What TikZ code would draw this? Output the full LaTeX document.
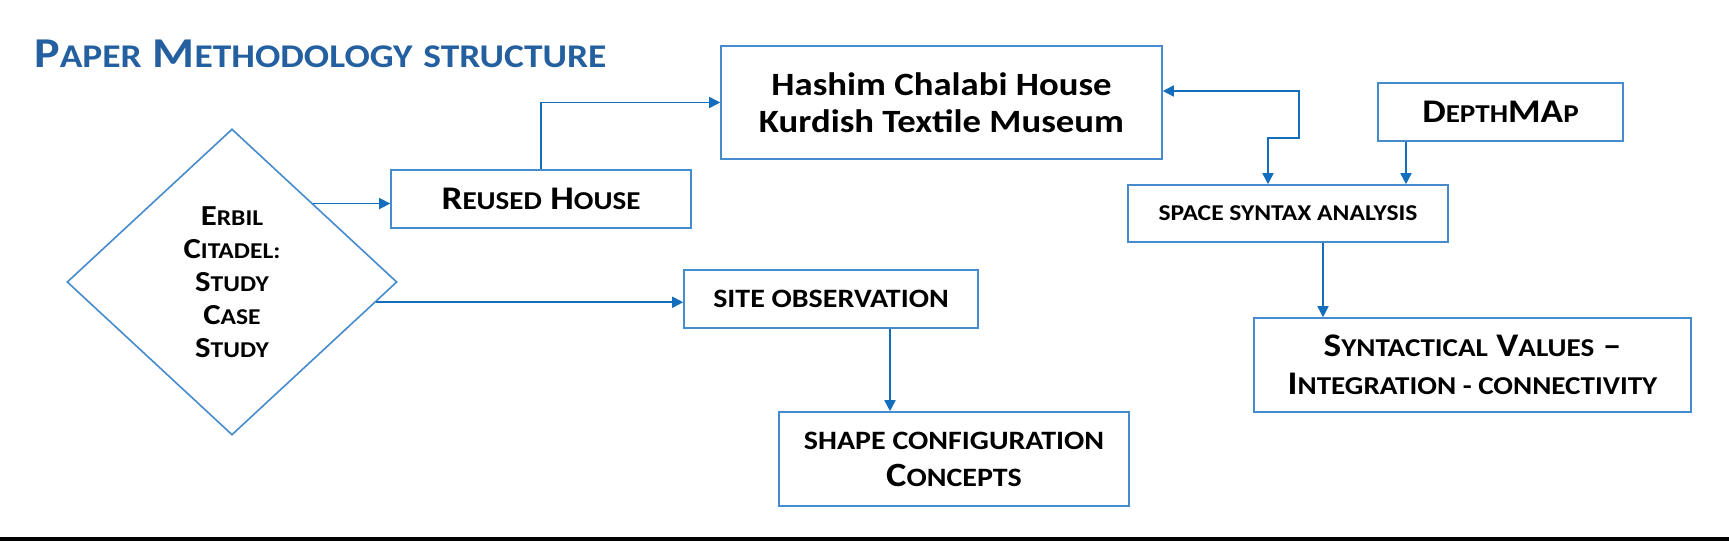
\documentclass[tikz,border=0pt]{standalone}
\usepackage{fontspec}
\setmainfont{Carlito}[FakeStretch=1.13]
\usetikzlibrary{shapes.geometric,arrows.meta,calc}
\definecolor{boxblue}{RGB}{70,140,205}
\definecolor{arrblue}{RGB}{20,110,190}
\definecolor{titleblue}{RGB}{36,96,160}
\newcommand\lc[1]{\scalebox{0.78}{#1}}
\begin{document}
\begin{tikzpicture}[x=1pt,y=-1pt,
  box/.style={draw=boxblue, line width=1.6pt, inner sep=0pt, align=center},
  arr/.style={draw=arrblue, line width=1.6pt, -{Triangle[length=11pt,width=11pt]}},
  darr/.style={draw=arrblue, line width=1.6pt, {Triangle[length=11pt,width=11pt]}-{Triangle[length=11pt,width=11pt]}}]
\useasboundingbox (0,0) rectangle (1729,541);
\fill[white] (0,0) rectangle (1729,541);
\fill[black] (0,537) rectangle (1729,541);

\node[anchor=base west, text=titleblue, inner sep=0pt, font=\bfseries\fontsize{42.5}{50}\selectfont] (title) at (34,67) {P\lc{APER} M\lc{ETHODOLOGY} \lc{STRUCTURE}};

\node[box, minimum width=441pt, minimum height=113pt, font=\bfseries\fontsize{32.5}{37}\selectfont] (hashim) at (941.5,102.5) {Hashim Chalabi House\\Kurdish Textile Museum};
\node[box, minimum width=300pt, minimum height=58pt, font=\bfseries\fontsize{33}{38}\selectfont] (reused) at (541,199) {R\lc{EUSED} H\lc{OUSE}};
\node[box, minimum width=245pt, minimum height=58pt, font=\bfseries\fontsize{33}{38}\selectfont] (depth) at (1500.5,112) {D\lc{EPTH}MA\lc{P}};
\node[box, minimum width=320pt, minimum height=57pt, font=\bfseries\fontsize{29}{34}\selectfont] (space) at (1288,213.5) {\lc{SPACE SYNTAX ANALYSIS}};
\node[box, minimum width=294pt, minimum height=58pt, font=\bfseries\fontsize{34}{38}\selectfont] (site) at (831,299) {\lc{SITE OBSERVATION}};
\node[box, minimum width=350pt, minimum height=94pt, font=\bfseries\fontsize{34}{37}\selectfont] (shape) at (954,459) {\lc{SHAPE CONFIGURATION}\\C\lc{ONCEPTS}};
\node[box, minimum width=437pt, minimum height=94pt, font=\bfseries\fontsize{33}{38}\selectfont] (syn) at (1472.5,365) {S\lc{YNTACTICAL} V\lc{ALUES} –\\I\lc{NTEGRATION - CONNECTIVITY}};
\node[diamond, draw=boxblue, line width=1.6pt, inner sep=0pt, align=center, minimum width=330pt, minimum height=306pt, font=\bfseries\fontsize{29}{33}\selectfont] (dia) at (232,282) {E\lc{RBIL}\\C\lc{ITADEL:}\\S\lc{TUDY}\\C\lc{ASE}\\S\lc{TUDY}};

\coordinate (xso) at (890,0);
\coordinate (xdm) at (1406,0);
\coordinate (xss) at (1323,0);
\coordinate (xk) at (1268,0);
\coordinate (k1) at (1299,91);
\coordinate (k2) at (1299,138);

\draw[arr] (dia.44) -- (dia.44 -| reused.west);
\draw[arr] (reused.north) |- (hashim.west);
\draw[arr] (dia.-8.3) -- (dia.-8.3 -| site.west);
\draw[arr] (site.south -| xso) -- (shape.north -| xso);
\draw[arr] (depth.south -| xdm) -- (space.north -| xdm);
\draw[arr] (space.south -| xss) -- (syn.north -| xss);
\draw[darr] (hashim.east |- k1) -- (k1) -- (k2) -| (space.north -| xk);
\end{tikzpicture}
\end{document}
